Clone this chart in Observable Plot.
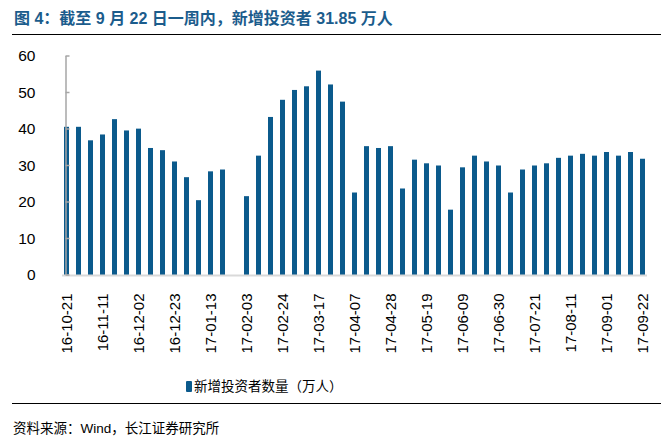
<!DOCTYPE html>
<html>
<head>
<meta charset="utf-8">
<script src="https://cdn.jsdelivr.net/npm/d3@7"></script>
<script src="https://cdn.jsdelivr.net/npm/@observablehq/plot@0.6"></script>
<style>
  html, body { margin: 0; padding: 0; background: #fff; }
  body { width: 672px; height: 437px; position: relative; overflow: hidden;
         font-family: "Liberation Sans", Arial, "Noto Sans CJK SC", sans-serif; }
  #title { position: absolute; left: 14px; top: 5px; font-size: 16px; font-weight: bold; color: #1b5c8c;
           font-family: "Liberation Sans", Arial, "Noto Sans CJK SC", sans-serif; white-space: nowrap; }
  .hr { position: absolute; left: 12px; width: 649px; height: 0; border-top: 1.5px solid #000; }
  #chart { position: absolute; left: 0; top: 40px; }
  #legend { position: absolute; left: 186px; top: 375px; font-size: 13.5px; color: #000; white-space: nowrap; }
  #legend .sw { display: inline-block; width: 6px; height: 11px; background: #0b5a8c; margin-right: 2px; vertical-align: -1px; border-radius: 1px; }
  #source { position: absolute; left: 13px; top: 417px; font-size: 13.5px; color: #000; white-space: nowrap; }
</style>
</head>
<body>
<div id="title">图 4：截至 9 月 22 日一周内，新增投资者 31.85 万人</div>
<div class="hr" style="top:34px"></div>
<div id="chart"></div>
<div id="legend"><span class="sw"></span>新增投资者数量（万人）</div>
<div class="hr" style="top:403px"></div>
<div id="source">资料来源：Wind，长江证券研究所</div>
<script>
const weeks = [
  "16-10-21","16-10-28","16-11-04","16-11-11","16-11-18","16-11-25","16-12-02","16-12-09",
  "16-12-16","16-12-23","16-12-30","17-01-06","17-01-13","17-01-20","17-01-27","17-02-03",
  "17-02-10","17-02-17","17-02-24","17-03-03","17-03-10","17-03-17","17-03-24","17-03-31",
  "17-04-07","17-04-14","17-04-21","17-04-28","17-05-05","17-05-12","17-05-19","17-05-26",
  "17-06-02","17-06-09","17-06-16","17-06-23","17-06-30","17-07-07","17-07-14","17-07-21",
  "17-07-28","17-08-04","17-08-11","17-08-18","17-08-25","17-09-01","17-09-08","17-09-15",
  "17-09-22"
];
const newInvestors = [
  40.6, 40.6, 36.9, 38.5, 42.7, 39.6, 40.1, 34.8,
  34.2, 31.1, 26.8, 20.5, 28.4, 28.9, null, 21.6,
  32.7, 43.3, 48.0, 50.7, 51.7, 56.0, 52.2, 47.5,
  22.6, 35.3, 34.8, 35.3, 23.7, 31.6, 30.6, 30.0,
  17.9, 29.5, 32.7, 31.1, 30.0, 22.6, 28.9, 30.0,
  30.6, 32.1, 32.7, 33.2, 32.7, 33.7, 32.7, 33.7,
  31.85
];
const yTicks = [0, 10, 20, 30, 40, 50, 60];
const xTickLabels = weeks.filter((d, i) => i % 3 === 0);

const data = weeks.map((w, i) => ({week: w, value: newInvestors[i]}));
const font = '"Liberation Sans", Arial, "Noto Sans CJK SC", sans-serif';

const plot = Plot.plot({
  width: 672,
  height: 330,
  marginLeft: 57,
  marginRight: 21,
  marginTop: 16,
  marginBottom: 95,
  style: {fontFamily: font, fontSize: "15px", color: "#000", background: "transparent"},
  x: {domain: weeks, padding: 0.61, paddingOuter: 0, align: 0.5},
  y: {domain: [0, 60]},
  marks: [
    Plot.barY(data.filter(d => d.value != null), {x: "week", y: "value", fill: "#0b5a8c"}),
    Plot.ruleX([weeks[0]], {y1: 0, y2: 60, dx: -1, stroke: "#a6a6a6", strokeWidth: 1.5}),
    Plot.ruleY([0], {stroke: "#d9d9d9", strokeWidth: 2, insetLeft: 5, insetRight: 4}),
    Plot.axisY(yTicks, {tickSize: 0, tickPadding: 22, label: null, fontSize: 15.5, fill: "#000"}),
    Plot.axisX(xTickLabels, {tickSize: 0, tickPadding: 18, tickRotate: -90, label: null, fontSize: 15, fill: "#000"})
  ]
});

// inward tick marks on the y axis, placed via the plot's own scales
const ys = plot.scale("y");
const xs = plot.scale("x");
const x0 = xs.apply(weeks[0]) + (xs.bandwidth || 0) / 2 - 1;
const svg = d3.select(plot);
svg.append("g").selectAll("line").data(yTicks).join("line")
  .attr("x1", x0).attr("x2", x0 + 4)
  .attr("y1", d => ys.apply(d)).attr("y2", d => ys.apply(d))
  .attr("stroke", "#a6a6a6").attr("stroke-width", 1.5);

document.getElementById("chart").appendChild(plot);
</script>
</body>
</html>
